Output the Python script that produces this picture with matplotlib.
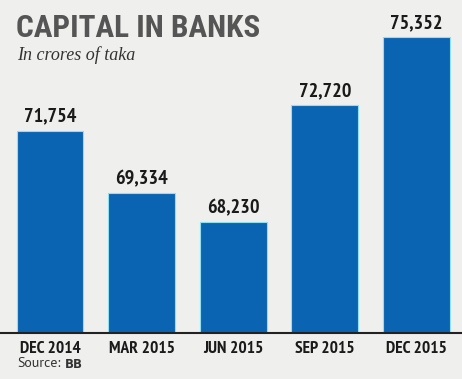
import matplotlib
matplotlib.use('Agg')
import matplotlib.pyplot as plt

# data
periods = ["DEC 2014", "MAR 2015", "JUN 2015", "SEP 2015", "DEC 2015"]
capital = [71754, 69334, 68230, 72720, 75352]

bg = '#efefed'
bar_col = '#0b64b2'
narrow = ['PT Sans Narrow', 'DejaVu Sans']

fig = plt.figure(figsize=(4.62, 3.79), dpi=100, facecolor=bg)
ax = fig.add_axes([0.0, 1 - 333 / 379, 1.0, 333 / 379])
ax.set_facecolor(bg)

x = range(len(periods))
ax.bar(x, capital, width=0.73, color=bar_col, edgecolor='#8fe0f0', linewidth=0.8, zorder=2)
ax.set_xlim(-0.546, 4.497)
ax.set_ylim(63960, 76780)

for xi, v in zip(x, capital):
    ax.text(xi, v + 200, f"{v:,}", ha='center', va='bottom', fontsize=14.5,
            fontweight='bold', family=narrow, color='#1a1a1a')

for s in ['top', 'right', 'left']:
    ax.spines[s].set_visible(False)
ax.spines['bottom'].set_color('#222222')
ax.spines['bottom'].set_linewidth(1.5)
ax.set_yticks([])
ax.set_xticks(list(x))
ax.set_xticklabels(periods, fontsize=12.5, fontweight='bold', family=narrow, color='#1a1a1a')
ax.tick_params(axis='x', length=0, pad=6)

fig.text(16 / 462, 1 - 13 / 379, "CAPITAL IN BANKS", ha='left', va='top', fontsize=22.5,
         fontweight='heavy', family=['Roboto Condensed', 'DejaVu Sans'], color='#555555')
fig.text(17 / 462, 1 - 46 / 379, "In crores of taka", ha='left', va='top', fontsize=13,
         style='italic', family=['Liberation Serif', 'DejaVu Serif'], color='#333333')
fig.text(17 / 462, 1 - 357 / 379, "Source:", ha='left', va='top', fontsize=10,
         family=['PT Sans', 'DejaVu Sans'], color='#333333')
fig.text(65 / 462, 1 - 358 / 379, "BB", ha='left', va='top', fontsize=8.5,
         fontweight='bold', family=['DejaVu Sans'], color='#333333')

fig.savefig('out.png', dpi=100, facecolor=bg)
